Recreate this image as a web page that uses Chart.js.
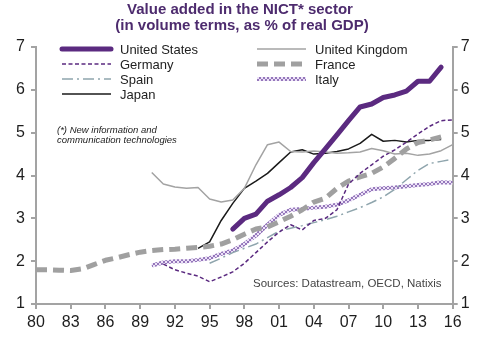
<!DOCTYPE html>
<html>
<head>
<meta charset="utf-8">
<script src="https://cdn.jsdelivr.net/npm/chart.js@4"></script>
<style>
  html, body { margin: 0; padding: 0; background: #fff; }
  canvas { display: block; }
</style>
</head>
<body>
<canvas id="chart" width="496" height="340"></canvas>
<script>
// ── Data (share of real GDP, %) ───────────────────────
const X_TICK_LABELS = ['80', '83', '86', '89', '92', '95', '98', '01', '04', '07', '10', '13', '16']

const US_START = 1997
const US = [2.75, 3.0, 3.1, 3.4, 3.55, 3.72, 3.95, 4.3, 4.62, 4.95, 5.28, 5.6, 5.67, 5.82, 5.88, 5.97, 6.2, 6.2, 6.53]

const UK_START = 1990
const UK = [4.07, 3.8, 3.73, 3.7, 3.72, 3.45, 3.38, 3.43, 3.7, 4.25, 4.72, 4.78, 4.56, 4.55, 4.57, 4.55, 4.52, 4.53, 4.55, 4.63, 4.58, 4.5, 4.52, 4.47, 4.5, 4.58, 4.72]

const GERMANY_START = 1991
const GERMANY = [1.93, 1.8, 1.72, 1.65, 1.52, 1.63, 1.75, 1.95, 2.2, 2.45, 2.68, 2.85, 2.73, 2.95, 3.0, 3.2, 3.8, 4.05, 4.25, 4.45, 4.6, 4.78, 4.97, 5.15, 5.28, 5.3]

const FRANCE_START = 1980
const FRANCE = [1.8, 1.8, 1.79, 1.78, 1.82, 1.92, 2.02, 2.08, 2.15, 2.21, 2.25, 2.27, 2.28, 2.3, 2.32, 2.35, 2.4, 2.5, 2.63, 2.75, 2.8, 2.92, 3.05, 3.2, 3.38, 3.47, 3.7, 3.87, 3.97, 4.05, 4.2, 4.4, 4.62, 4.77, 4.83, 4.9]

const SPAIN_START = 1995
const SPAIN = [1.95, 2.07, 2.2, 2.3, 2.4, 2.55, 2.7, 2.77, 2.83, 2.9, 2.97, 3.05, 3.15, 3.25, 3.37, 3.5, 3.68, 3.9, 4.12, 4.28, 4.33, 4.38]

const ITALY_START = 1990
const ITALY = [1.9, 1.97, 2.0, 2.0, 2.03, 2.07, 2.17, 2.25, 2.4, 2.6, 2.85, 3.08, 3.2, 3.22, 3.25, 3.27, 3.32, 3.42, 3.55, 3.68, 3.7, 3.72, 3.75, 3.78, 3.8, 3.84, 3.83]

const JAPAN_START = 1994
const JAPAN = [2.3, 2.45, 2.95, 3.35, 3.7, 3.87, 4.05, 4.3, 4.55, 4.6, 4.5, 4.52, 4.56, 4.62, 4.75, 4.96, 4.8, 4.82, 4.78, 4.82, 4.82, 4.84]

// ── Helpers ───────────────────────────────────────────
const FONT = 'Liberation Sans, Arial, sans-serif'
const PURPLE = '#5b2a80'
const GREY = '#a3a3a3'

function toPoints(start, values) {
  return values.map((v, i) => ({ x: start + i, y: v }))
}

// lavender band of tiny purple rings used for the Italy line
function italyPattern() {
  const c = document.createElement('canvas')
  c.width = 4
  c.height = 4
  const g = c.getContext('2d')
  g.fillStyle = '#ece2f7'
  g.fillRect(0, 0, 4, 4)
  g.fillStyle = '#9577bb'
  ;[[1, 0], [2, 0], [0, 1], [3, 1], [0, 2], [3, 2], [1, 3], [2, 3]].forEach(([x, y]) => g.fillRect(x, y, 1, 1))
  return g.createPattern(c, 'repeat')
}

function line(label, start, values, style) {
  return Object.assign({
    label,
    data: toPoints(start, values),
    pointRadius: 0,
    tension: 0,
    fill: false,
    borderJoinStyle: 'round'
  }, style)
}

// ── Text + legend drawn on the canvas ─────────────────
const annotations = {
  id: 'annotations',
  afterDraw(chart) {
    const ctx = chart.ctx
    ctx.save()
    ctx.textBaseline = 'middle'

    // title
    ctx.fillStyle = '#4d2b6e'
    ctx.font = 'bold 15px ' + FONT
    ctx.textAlign = 'center'
    ctx.fillText('Value added in the NICT* sector', 240, 10)
    ctx.fillText('(in volume terms, as % of real GDP)', 242, 26)

    // legend, two columns
    ctx.textAlign = 'left'
    ctx.font = '13px ' + FONT
    const cols = [62, 257]
    chart.data.datasets.forEach((ds, i) => {
      const x = cols[i % 2]
      const y = 49 + Math.floor(i / 2) * 15
      ctx.save()
      ctx.strokeStyle = ds.borderColor
      ctx.lineWidth = ds.borderWidth
      ctx.lineCap = ds.borderCapStyle || 'butt'
      ctx.setLineDash(ds.borderDash || [])
      ctx.beginPath()
      ctx.moveTo(x, y)
      ctx.lineTo(x + 49, y)
      ctx.stroke()
      ctx.restore()
      ctx.fillStyle = '#222'
      ctx.fillText(ds.label, x + 58, y + 1)
    })

    // footnote
    ctx.fillStyle = '#222'
    ctx.font = 'italic 9.5px ' + FONT
    ctx.fillText('(*) New information and', 57, 130)
    ctx.fillText('communication technologies', 57, 140)

    // sources
    ctx.fillStyle = '#444'
    ctx.font = '11.5px ' + FONT
    ctx.fillText('Sources: Datastream, OECD, Natixis', 253, 284)

    ctx.restore()
  }
}

// ── Chart ─────────────────────────────────────────────
const axisGrid = { drawOnChartArea: false, drawTicks: true, tickLength: 5, color: GREY, lineWidth: 2 }
const axisBorder = { color: GREY, width: 2 }
const tickFont = { family: FONT, size: 16 }

new Chart(document.getElementById('chart').getContext('2d'), {
  type: 'line',
  data: {
    datasets: [
      line('United States', US_START, US, { borderColor: PURPLE, borderWidth: 5, borderCapStyle: 'round' }),
      line('United Kingdom', UK_START, UK, { borderColor: GREY, borderWidth: 1.5 }),
      line('Germany', GERMANY_START, GERMANY, { borderColor: PURPLE, borderWidth: 1.5, borderDash: [4, 2.5] }),
      line('France', FRANCE_START, FRANCE, { borderColor: '#a0a0a0', borderWidth: 5, borderDash: [11, 6] }),
      line('Spain', SPAIN_START, SPAIN, { borderColor: '#8fa5ad', borderWidth: 1.5, borderDash: [11, 4, 2, 4] }),
      line('Italy', ITALY_START, ITALY, { borderColor: italyPattern(), borderWidth: 4 }),
      line('Japan', JAPAN_START, JAPAN, { borderColor: '#1a1a1a', borderWidth: 1.5 })
    ]
  },
  options: {
    responsive: false,
    animation: false,
    layout: { padding: { top: 47, left: 0, right: 0, bottom: 0 } },
    plugins: {
      legend: { display: false },
      title: { display: false },
      tooltip: { enabled: false }
    },
    scales: {
      x: {
        type: 'linear',
        min: 1980,
        max: 2016,
        grid: axisGrid,
        border: axisBorder,
        ticks: {
          stepSize: 3,
          padding: 4,
          color: '#1e1e1e',
          font: tickFont,
          maxRotation: 0,
          callback: v => X_TICK_LABELS[(v - 1980) / 3]
        },
        afterFit(scale) { scale.height = 36 }
      },
      y: {
        position: 'left',
        min: 1,
        max: 7,
        grid: axisGrid,
        border: axisBorder,
        ticks: { stepSize: 1, padding: 6, color: '#1e1e1e', font: tickFont },
        afterFit(scale) { scale.width = 36 }
      },
      y2: {
        position: 'right',
        min: 1,
        max: 7,
        grid: axisGrid,
        border: axisBorder,
        ticks: { stepSize: 1, padding: 3, color: '#1e1e1e', font: tickFont },
        afterFit(scale) { scale.width = 43.3 }
      }
    }
  },
  plugins: [annotations]
})
</script>
</body>
</html>
